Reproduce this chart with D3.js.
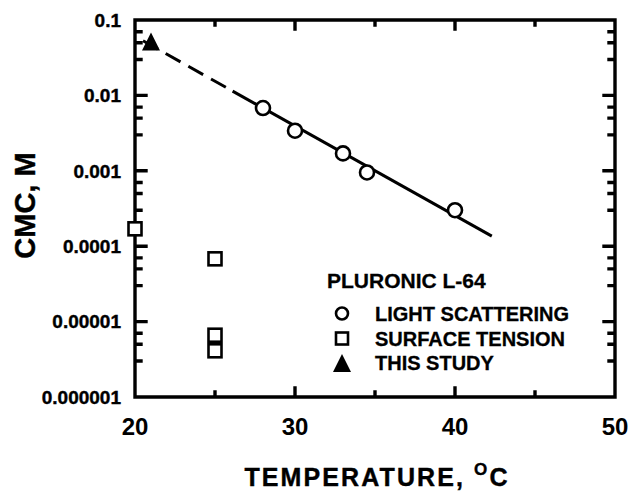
<!DOCTYPE html>
<html>
<head>
<meta charset="utf-8">
<script src="https://cdn.jsdelivr.net/npm/d3@7"></script>
<style>
  html, body { margin: 0; padding: 0; background: #fff; }
  svg { display: block; }
  text { font-family: "Liberation Sans", Arial, Helvetica, sans-serif; font-weight: bold; fill: #000; }
</style>
</head>
<body>
<div id="chart"></div>
<script>
// ---- data ----
const lightScatterTemp = [28, 30, 33, 34.5, 40];
const lightScatterCmc  = [0.0068, 0.0034, 0.0017, 0.00095, 0.0003];
const surfaceTensionTemp = [20, 25, 25, 25];
const surfaceTensionCmc  = [0.00017, 0.000068, 0.0000066, 0.0000041];
const thisStudyTemp = [21];
const thisStudyCmc  = [0.052];
// fitted line: dashed extrapolation then solid segment
const dashedTemp = [20.5, 26.1];
const dashedCmc  = [0.053, 0.0114];
const solidTemp  = [26.1, 42.3];
const solidCmc   = [0.0114, 0.000136];

const xTicks = [20, 30, 40, 50];
const xMinorTicks = [25, 35, 45];
const yTicks = [0.1, 0.01, 0.001, 0.0001, 0.00001, 0.000001];
const yTickLabels = ["0.1", "0.01", "0.001", "0.0001", "0.00001", "0.000001"];
const yMinorMultipliers = [3, 5, 7];

const legendTitle = "PLURONIC L-64";
const legendLabels = ["LIGHT SCATTERING", "SURFACE TENSION", "THIS STUDY"];
const xTitle = "TEMPERATURE, ";
const yTitle = "CMC, M";

// ---- layout ----
const W = 629, H = 497;
const L = 135, R = 615, T = 20, B = 397;

const svg = d3.select("#chart").append("svg").attr("width", W).attr("height", H);

const x = d3.scaleLinear().domain([20, 50]).range([L, R]);
const y = d3.scaleLog().domain([1e-6, 0.1]).range([B, T]);

const yMinor = [];
yTicks.slice(1).forEach(v => yMinorMultipliers.forEach(m => yMinor.push(v * m)));

// frame + inward ticks as one black path
const fp = d3.path();
fp.moveTo(x(20), y(0.1)); fp.lineTo(x(50), y(0.1)); fp.lineTo(x(50), y(1e-6));
fp.lineTo(x(20), y(1e-6)); fp.closePath();
function xTickLines(vals, len) {
  vals.forEach(d => {
    fp.moveTo(x(d), B); fp.lineTo(x(d), B - len);
    fp.moveTo(x(d), T); fp.lineTo(x(d), T + len);
  });
}
function yTickLines(vals, len) {
  vals.forEach(d => {
    fp.moveTo(L, y(d)); fp.lineTo(L + len, y(d));
    fp.moveTo(R, y(d)); fp.lineTo(R - len, y(d));
  });
}
xTickLines(xTicks.slice(1, -1), 9);
xTickLines(xMinorTicks, 5);
yTickLines(yTicks.slice(1, -1), 11);
yTickLines(yMinor, 6);
svg.append("path").attr("d", fp.toString())
  .attr("fill", "none").attr("stroke", "black").attr("stroke-width", 3.4)
  .attr("stroke-linecap", "square");

// tick labels
svg.append("g").selectAll("text").data(yTicks).join("text")
  .attr("x", L - 14).attr("y", d => y(d)).attr("dy", "0.36em")
  .attr("text-anchor", "end").attr("font-size", 19)
  .attr("stroke", "#000").attr("stroke-width", 0.4)
  .text((d, i) => yTickLabels[i]);
svg.append("g").selectAll("text").data(xTicks).join("text")
  .attr("x", d => x(d)).attr("y", 435)
  .attr("text-anchor", "middle").attr("font-size", 24)
  .text(d => d);

// axis titles
const xt = svg.append("text").attr("x", (L + R) / 2 + 2).attr("y", 486)
  .attr("text-anchor", "middle").attr("font-size", 25).attr("letter-spacing", 2.1)
  .attr("stroke", "#000").attr("stroke-width", 0.4);
xt.append("tspan").text(xTitle);
xt.append("tspan").attr("font-size", 17).attr("dy", -11).text("O");
xt.append("tspan").attr("dy", 11).text("C");

svg.append("text").attr("transform", `translate(35,${(T + B) / 2 - 3}) rotate(-90)`)
  .attr("text-anchor", "middle").attr("font-size", 29)
  .attr("stroke", "#000").attr("stroke-width", 0.4).text(yTitle);

// fit line
const line = d3.line().x(d => x(d[0])).y(d => y(d[1]));
svg.append("path").datum(dashedTemp.map((t, i) => [t, dashedCmc[i]]))
  .attr("d", line).attr("fill", "none").attr("stroke", "#000")
  .attr("stroke-width", 3).attr("stroke-dasharray", "17,9");
svg.append("path").datum(solidTemp.map((t, i) => [t, solidCmc[i]]))
  .attr("d", line).attr("fill", "none").attr("stroke", "#000").attr("stroke-width", 3);

// markers
const tri = s => `M0,${-s * 0.5}L${s * 0.5},${s * 0.5}L${-s * 0.5},${s * 0.5}Z`;

svg.append("g").selectAll("circle").data(lightScatterTemp).join("circle")
  .attr("cx", d => x(d)).attr("cy", (d, i) => y(lightScatterCmc[i])).attr("r", 7)
  .attr("fill", "#fff").attr("stroke", "#000").attr("stroke-width", 2.6);

svg.append("g").selectAll("rect").data(surfaceTensionTemp).join("rect")
  .attr("x", d => x(d) - 6.5).attr("y", (d, i) => y(surfaceTensionCmc[i]) - 6.5)
  .attr("width", 13).attr("height", 13)
  .attr("fill", "#fff").attr("stroke", "#000").attr("stroke-width", 2.6);

svg.append("g").selectAll("path").data(thisStudyTemp).join("path")
  .attr("transform", (d, i) => `translate(${x(d)},${y(thisStudyCmc[i])})`)
  .attr("d", tri(18)).attr("fill", "#000");

// legend
const lg = svg.append("g");
lg.append("text").attr("x", 327).attr("y", 288).attr("font-size", 21)
  .attr("stroke", "#000").attr("stroke-width", 0.3).text(legendTitle);
const rowY = [321, 346, 370];
lg.selectAll("text.lab").data(legendLabels).join("text").attr("class", "lab")
  .attr("x", 375).attr("y", (d, i) => rowY[i]).attr("font-size", 20)
  .attr("stroke", "#000").attr("stroke-width", 0.3).text(d => d);
lg.append("circle").attr("cx", 342).attr("cy", rowY[0] - 7.5).attr("r", 6)
  .attr("fill", "#fff").attr("stroke", "#000").attr("stroke-width", 2.6);
lg.append("rect").attr("x", 336).attr("y", rowY[1] - 13.5).attr("width", 12).attr("height", 12)
  .attr("fill", "#fff").attr("stroke", "#000").attr("stroke-width", 2.6);
lg.append("path").attr("transform", `translate(342,${rowY[2] - 7})`).attr("d", tri(18)).attr("fill", "#000");
</script>
</body>
</html>
